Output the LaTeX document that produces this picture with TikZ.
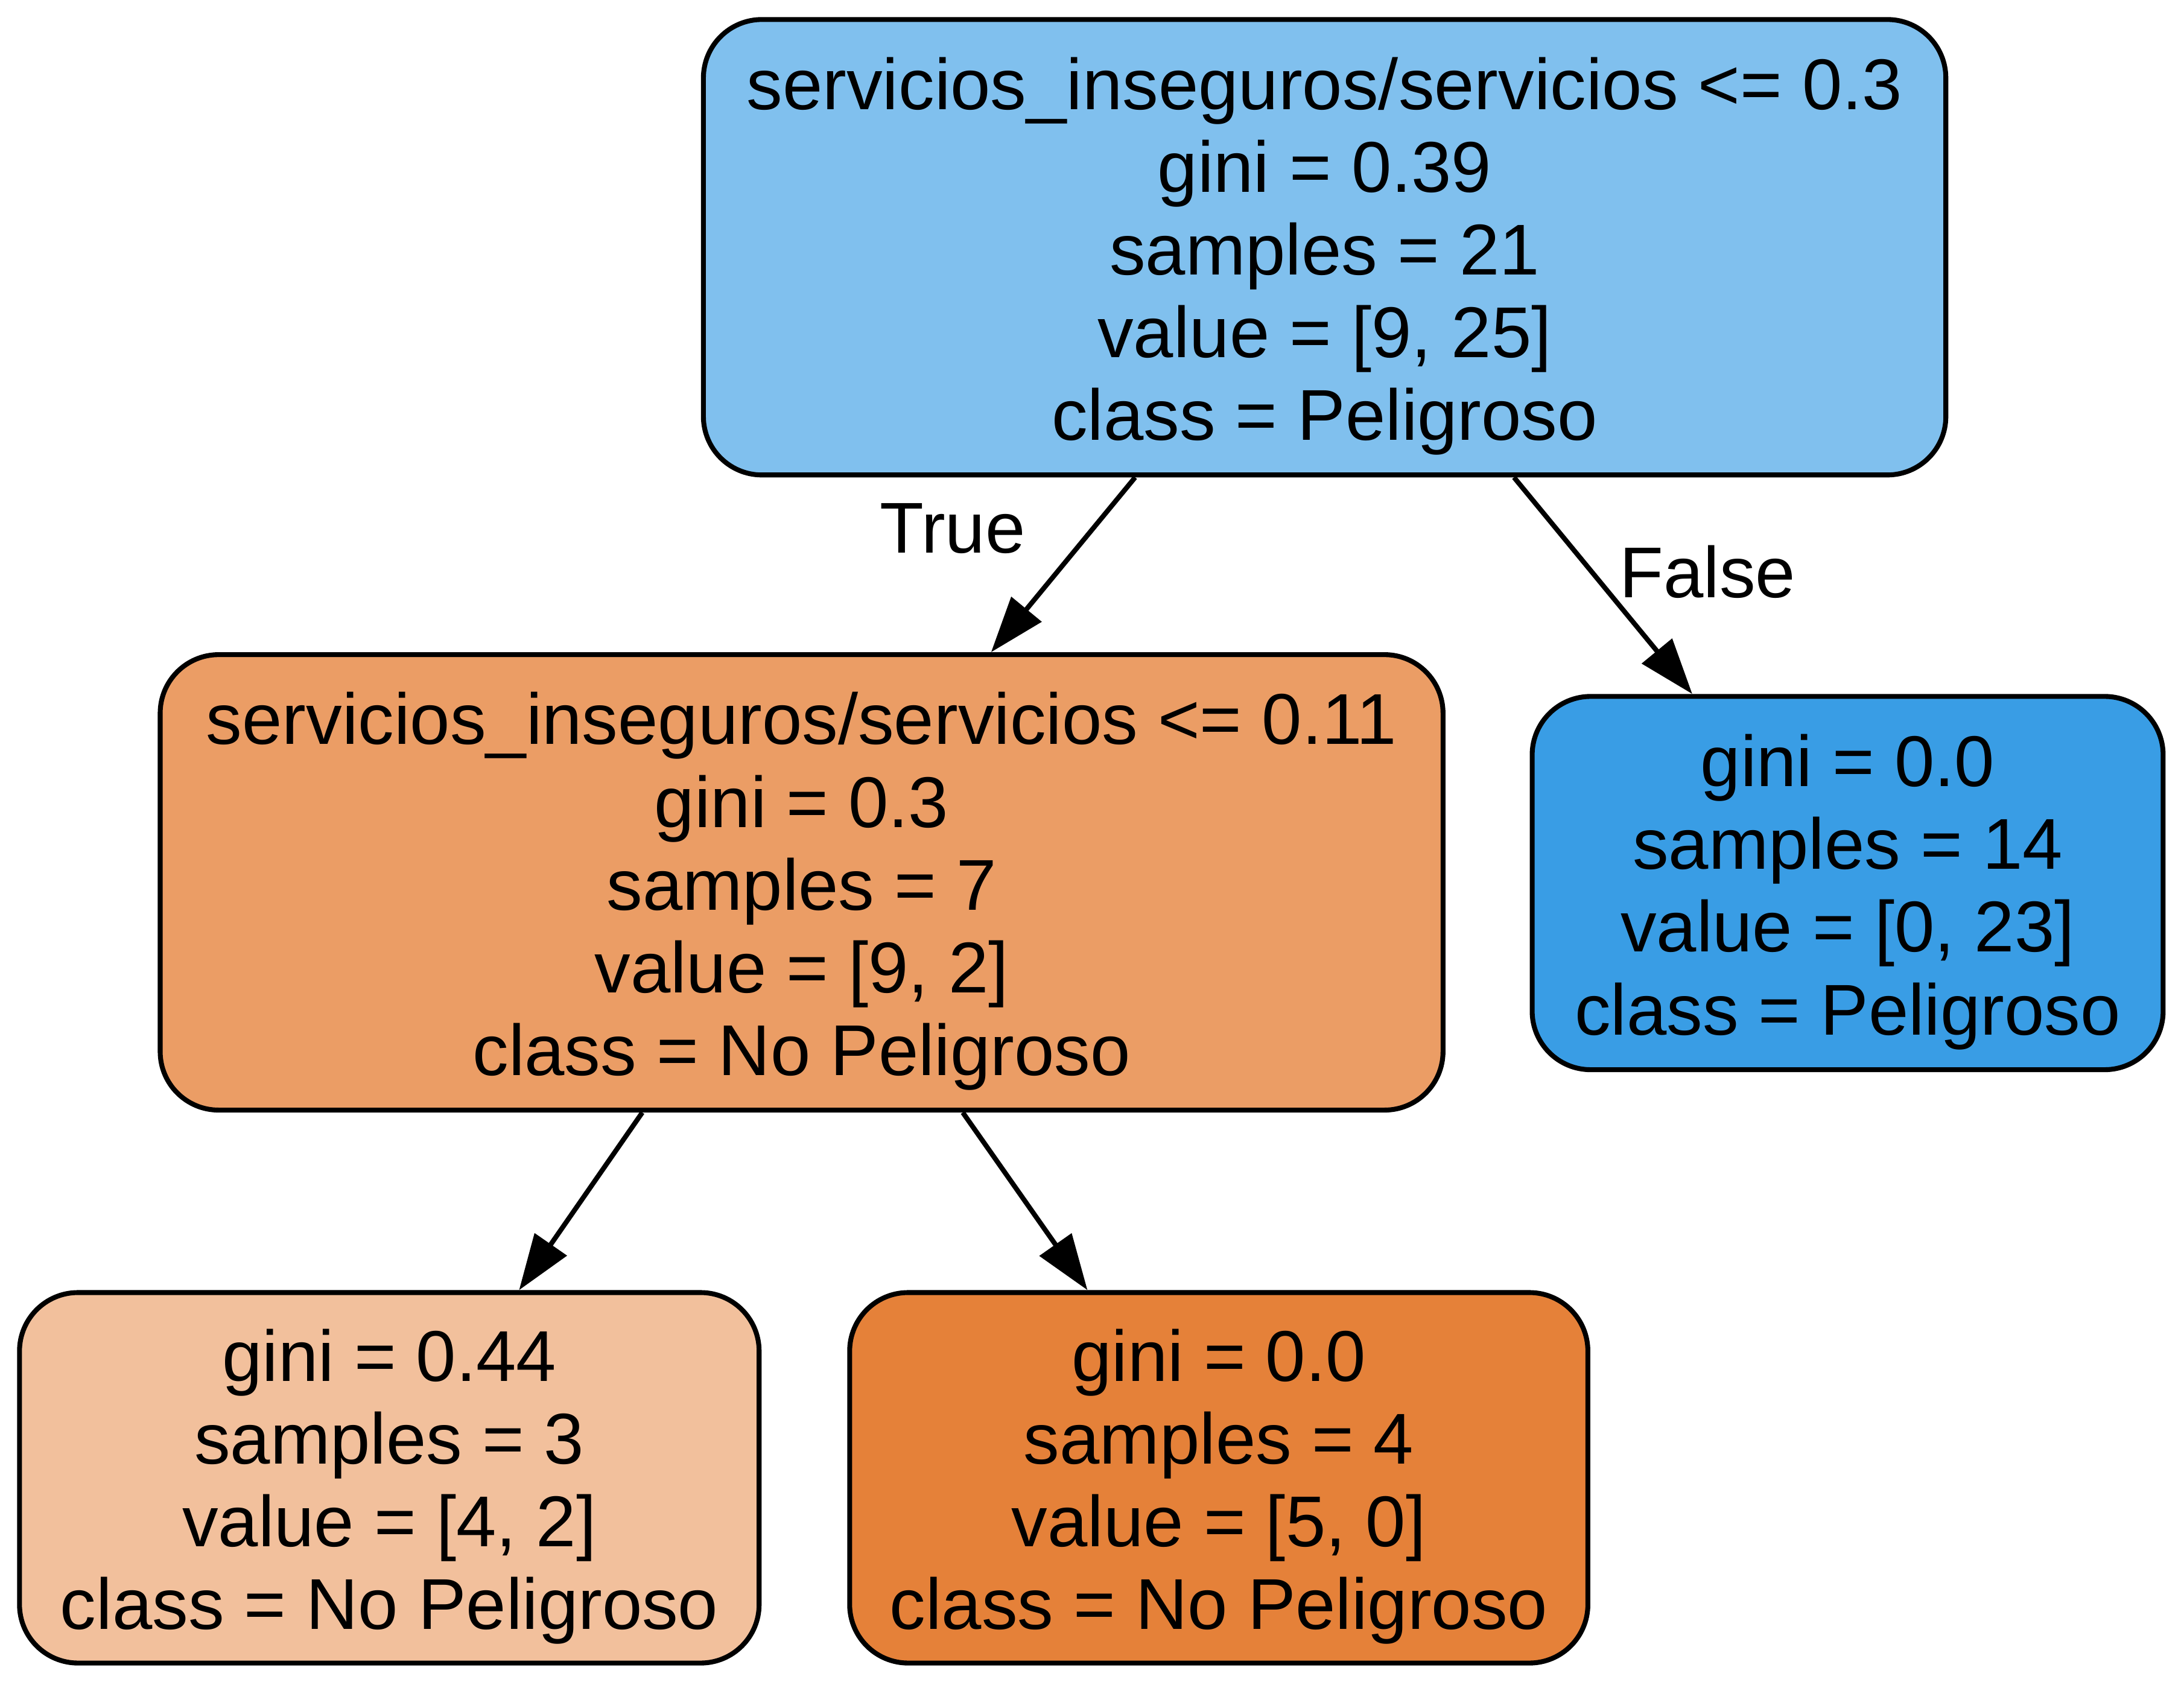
\documentclass[tikz,border=0pt]{standalone}
\usepackage{fontspec}
\setmainfont{Liberation Sans}
\definecolor{riskblue}{HTML}{80C0EE}
\definecolor{fullblue}{HTML}{399DE5}
\definecolor{splitorange}{HTML}{EB9D65}
\definecolor{paleorange}{HTML}{F2C09C}
\definecolor{fullorange}{HTML}{E58139}
\usepackage{tikz}
\usetikzlibrary{arrows.meta, positioning}
\newcommand{\toprow}{\rule{0pt}{14.3pt}}

\tikzset{
  treenode/.style={draw=black, line width=1pt, rounded corners=0.42cm, align=center, inner sep=0pt, font=\fontsize{14.7}{16.9}\selectfont},
  branch/.style={-{Triangle[length=0.4cm, width=0.275cm]}, line width=1pt},
  edgelabel/.style={anchor=base, font=\fontsize{14.7}{16.9}\selectfont}
}

\begin{document}
\begin{tikzpicture}
  \useasboundingbox (0, 0) rectangle (15.68, -12.0935);

  % Root split
  \node[treenode, fill=riskblue, minimum width=8.92cm, minimum height=3.27cm] (root) at (9.51, -1.775) {
    \toprow servicios\_inseguros/servicios <= 0.3\\gini = 0.39\\samples = 21\\value = [9, 25]\\class = Peligroso
  };

  % Second level
  \node[treenode, fill=splitorange, minimum width=9.21cm, minimum height=3.27cm] (split) at (5.755, -6.335) {
    \toprow servicios\_inseguros/servicios <= 0.11\\gini = 0.3\\samples = 7\\value = [9, 2]\\class = No Peligroso
  };
  \node[treenode, fill=fullblue, minimum width=4.53cm, minimum height=2.68cm] (pure) at (13.265, -6.34) {
    \toprow gini = 0.0\\samples = 14\\value = [0, 23]\\class = Peligroso
  };

  % Leaves
  \node[treenode, fill=paleorange, minimum width=5.31cm, minimum height=2.66cm] (leafmix) at (2.795, -10.61) {
    \toprow gini = 0.44\\samples = 3\\value = [4, 2]\\class = No Peligroso
  };
  \node[treenode, fill=fullorange, minimum width=5.30cm, minimum height=2.66cm] (leafpure) at (8.75, -10.61) {
    \toprow gini = 0.0\\samples = 4\\value = [5, 0]\\class = No Peligroso
  };

  \draw[branch] (root) -- (split);
  \draw[branch] (root) -- (pure);
  \draw[branch] (split) -- (leafmix);
  \draw[branch] (split) -- (leafpure);

  \node[edgelabel] (truelbl) at (6.84, -3.97) {True};
  \node[edgelabel] (falselbl) at (12.26, -4.29) {False};
\end{tikzpicture}
\end{document}
